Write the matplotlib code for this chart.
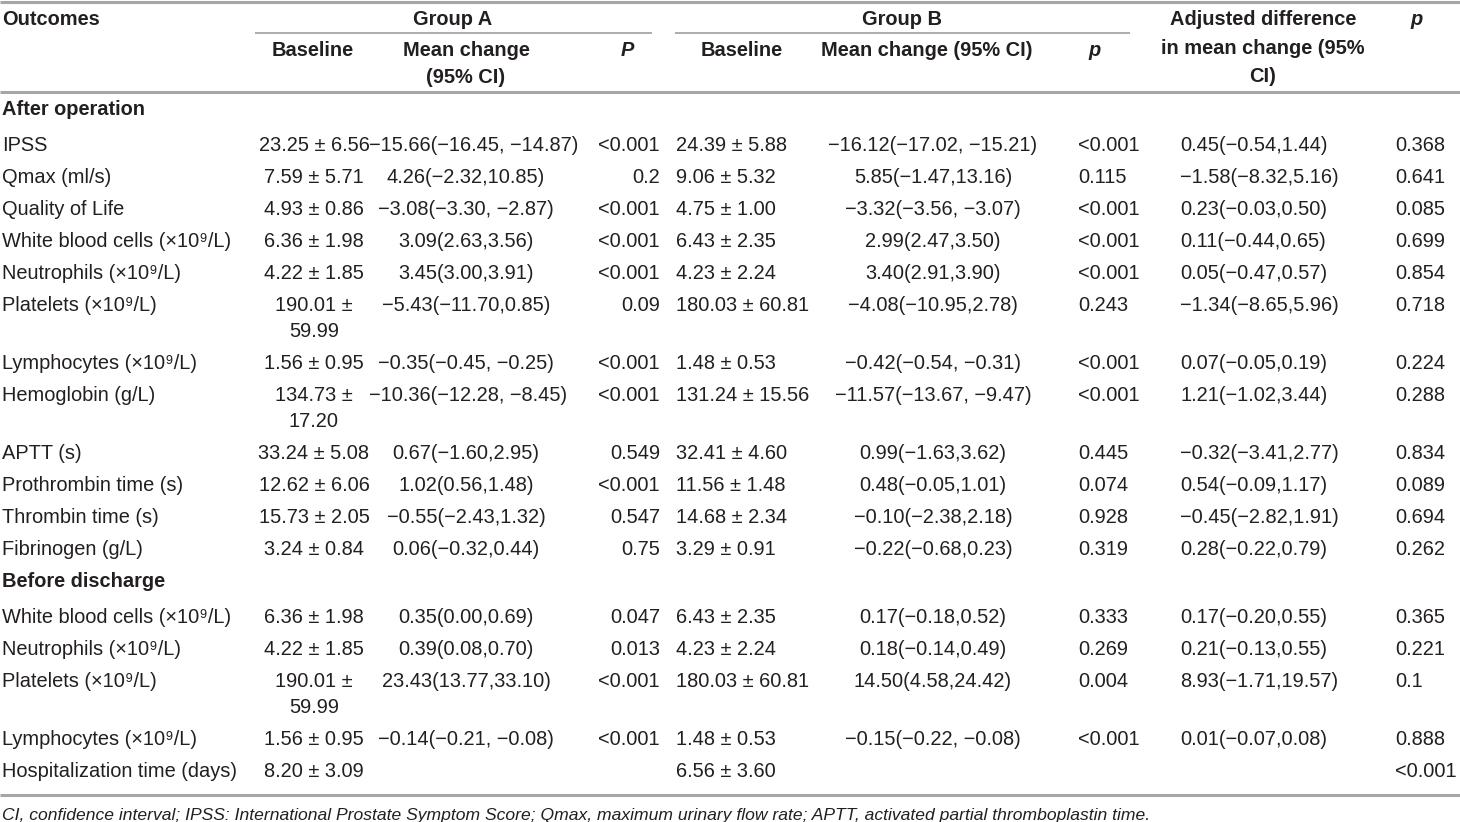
import matplotlib
matplotlib.use("Agg")
import matplotlib.pyplot as plt

plt.rcParams['font.family'] = ['Liberation Sans', 'DejaVu Sans']

# ---- table content ----
sections = ["After operation", "Before discharge"]

outcomes_after = ["IPSS", "Qmax (ml/s)", "Quality of Life", "White blood cells (×10⁹/L)",
                  "Neutrophils (×10⁹/L)", "Platelets (×10⁹/L)", "Lymphocytes (×10⁹/L)",
                  "Hemoglobin (g/L)", "APTT (s)", "Prothrombin time (s)", "Thrombin time (s)",
                  "Fibrinogen (g/L)"]
base_a_after = ["23.25 ± 6.56", "7.59 ± 5.71", "4.93 ± 0.86", "6.36 ± 1.98", "4.22 ± 1.85",
                "190.01 ±\n59.99", "1.56 ± 0.95", "134.73 ±\n17.20", "33.24 ± 5.08",
                "12.62 ± 6.06", "15.73 ± 2.05", "3.24 ± 0.84"]
change_a_after = ["−15.66(−16.45, −14.87)", "4.26(−2.32,10.85)", "−3.08(−3.30, −2.87)",
                  "3.09(2.63,3.56)", "3.45(3.00,3.91)", "−5.43(−11.70,0.85)",
                  "−0.35(−0.45, −0.25)", "−10.36(−12.28, −8.45)", "0.67(−1.60,2.95)",
                  "1.02(0.56,1.48)", "−0.55(−2.43,1.32)", "0.06(−0.32,0.44)"]
p_a_after = ["<0.001", "0.2", "<0.001", "<0.001", "<0.001", "0.09", "<0.001", "<0.001",
             "0.549", "<0.001", "0.547", "0.75"]
base_b_after = ["24.39 ± 5.88", "9.06 ± 5.32", "4.75 ± 1.00", "6.43 ± 2.35", "4.23 ± 2.24",
                "180.03 ± 60.81", "1.48 ± 0.53", "131.24 ± 15.56", "32.41 ± 4.60",
                "11.56 ± 1.48", "14.68 ± 2.34", "3.29 ± 0.91"]
change_b_after = ["−16.12(−17.02, −15.21)", "5.85(−1.47,13.16)", "−3.32(−3.56, −3.07)",
                  "2.99(2.47,3.50)", "3.40(2.91,3.90)", "−4.08(−10.95,2.78)",
                  "−0.42(−0.54, −0.31)", "−11.57(−13.67, −9.47)", "0.99(−1.63,3.62)",
                  "0.48(−0.05,1.01)", "−0.10(−2.38,2.18)", "−0.22(−0.68,0.23)"]
p_b_after = ["<0.001", "0.115", "<0.001", "<0.001", "<0.001", "0.243", "<0.001", "<0.001",
             "0.445", "0.074", "0.928", "0.319"]
adj_after = ["0.45(−0.54,1.44)", "−1.58(−8.32,5.16)", "0.23(−0.03,0.50)", "0.11(−0.44,0.65)",
             "0.05(−0.47,0.57)", "−1.34(−8.65,5.96)", "0.07(−0.05,0.19)", "1.21(−1.02,3.44)",
             "−0.32(−3.41,2.77)", "0.54(−0.09,1.17)", "−0.45(−2.82,1.91)", "0.28(−0.22,0.79)"]
p_adj_after = ["0.368", "0.641", "0.085", "0.699", "0.854", "0.718", "0.224", "0.288",
               "0.834", "0.089", "0.694", "0.262"]

outcomes_before = ["White blood cells (×10⁹/L)", "Neutrophils (×10⁹/L)", "Platelets (×10⁹/L)",
                   "Lymphocytes (×10⁹/L)", "Hospitalization time (days)"]
base_a_before = ["6.36 ± 1.98", "4.22 ± 1.85", "190.01 ±\n59.99", "1.56 ± 0.95", "8.20 ± 3.09"]
change_a_before = ["0.35(0.00,0.69)", "0.39(0.08,0.70)", "23.43(13.77,33.10)",
                   "−0.14(−0.21, −0.08)", ""]
p_a_before = ["0.047", "0.013", "<0.001", "<0.001", ""]
base_b_before = ["6.43 ± 2.35", "4.23 ± 2.24", "180.03 ± 60.81", "1.48 ± 0.53", "6.56 ± 3.60"]
change_b_before = ["0.17(−0.18,0.52)", "0.18(−0.14,0.49)", "14.50(4.58,24.42)",
                   "−0.15(−0.22, −0.08)", ""]
p_b_before = ["0.333", "0.269", "0.004", "<0.001", ""]
adj_before = ["0.17(−0.20,0.55)", "0.21(−0.13,0.55)", "8.93(−1.71,19.57)", "0.01(−0.07,0.08)", ""]
p_adj_before = ["0.365", "0.221", "0.1", "0.888", "<0.001"]

footnote = ("CI, confidence interval; IPSS: International Prostate Symptom Score; Qmax, maximum "
            "urinary flow rate; APTT, activated partial thromboplastin time.")

# ---- layout ----
W, H = 1460, 822
FS = 14.4
TXT = "#231f20"
RULE = "#a6a6a6"
LINE_H = 26          # line spacing inside a cell
ROW_H = 32
BASE_OFF = 7         # center -> baseline

# (x, ha) per column
cols = [(2, "left"), (314, "center"), (466, "center"), (660, "right"),
        (676, "left"), (933, "center"), (1078, "left"), (1180, "left"), (1395, "left")]

fig = plt.figure(figsize=(W / 100, H / 100), dpi=100)
ax = fig.add_axes([0, 0, 1, 1])
ax.set_xlim(0, W)
ax.set_ylim(H, 0)
ax.axis("off")


def put(x, y, s, ha="left", bold=False, italic=False, size=FS, lh=LINE_H):
    for i, line in enumerate(s.split("\n")):
        ax.text(x, y + i * lh + BASE_OFF, line, ha=ha, va="baseline", fontsize=size,
                color=TXT, fontweight="bold" if bold else "normal",
                fontstyle="italic" if italic else "normal")


# rules
ax.plot([0, W], [2, 2], color=RULE, lw=2.2, solid_capstyle="butt")
ax.plot([255, 652], [33, 33], color=RULE, lw=1.3, solid_capstyle="butt")
ax.plot([675, 1130], [33, 33], color=RULE, lw=1.3, solid_capstyle="butt")
ax.plot([0, W], [92, 92], color=RULE, lw=2.2, solid_capstyle="butt")

# header
put(2, 18, "Outcomes", bold=True)
put(453, 18, "Group A", ha="center", bold=True)
put(902, 18, "Group B", ha="center", bold=True)
put(1263, 18, "Adjusted difference\nin mean change (95%\nCI)", ha="center", bold=True, lh=28.5)
put(1417, 18, "p", ha="center", bold=True, italic=True)
put(313, 49, "Baseline", ha="center", bold=True)
put(466, 49, "Mean change\n(95% CI)", ha="center", bold=True, lh=27)
put(627, 49, "P", ha="center", bold=True, italic=True)
put(742, 49, "Baseline", ha="center", bold=True)
put(927, 49, "Mean change (95% CI)", ha="center", bold=True)
put(1095, 49, "p", ha="center", bold=True, italic=True)

blocks = [
    (outcomes_after, base_a_after, change_a_after, p_a_after, base_b_after,
     change_b_after, p_b_after, adj_after, p_adj_after),
    (outcomes_before, base_a_before, change_a_before, p_a_before, base_b_before,
     change_b_before, p_b_before, adj_before, p_adj_before),
]

renderer = fig.canvas.get_renderer()
y = 108
for title, block in zip(sections, blocks):
    put(2, y, title, bold=True)
    y += 36
    for r in range(len(block[0])):
        nlines = 1
        for c, (x, ha) in enumerate(cols):
            s = block[c][r]
            if not s:
                continue
            nlines = max(nlines, s.count("\n") + 1)
            put(x, y, s, ha=ha)
            if c == 2:
                # wide mean-change text starts right after the baseline column
                t = ax.texts[-1]
                bb = t.get_window_extent(renderer)
                if bb.x0 < 370:
                    t.set_ha("left")
                    t.set_x(369)
        y += ROW_H + LINE_H * (nlines - 1)

ax.plot([0, W], [795, 795], color=RULE, lw=2.2, solid_capstyle="butt")
put(2, 813, footnote, italic=True, size=12.6)

fig.savefig("out.png", dpi=100)
